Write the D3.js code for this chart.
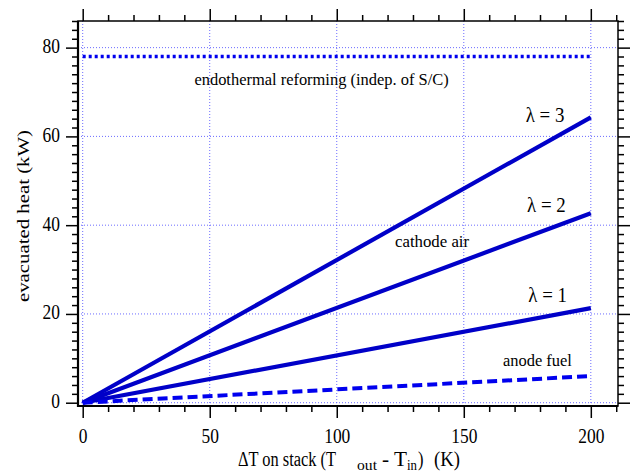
<!DOCTYPE html>
<html>
<head>
<meta charset="utf-8">
<script src="https://cdn.jsdelivr.net/npm/d3@7"></script>
</head>
<body style="margin:0">
<div id="chart"></div>
<script>
// data
var deltaT = [0, 200];
var lambda1 = [0, 21.3];
var lambda2 = [0, 42.7];
var lambda3 = [0, 64.3];
var anodeFuel = [0, 6.0];
var reforming = [78.0, 78.0];
var xMajor = [0, 50, 100, 150, 200];
var yMajor = [0, 20, 40, 60, 80];

var FONT = "'Liberation Serif', 'Times New Roman', Times, serif";
var SX = 0.85; // text in the source looks squeezed sideways

var W = 632, H = 473;
var margin = {top: 21, right: 14, bottom: 67, left: 78};
var width = W - margin.left - margin.right,
    height = H - margin.top - margin.bottom;

var root = d3.select("#chart").append("svg")
    .attr("width", W).attr("height", H)
    .attr("font-family", FONT);
var svg = root.append("g")
    .attr("transform", "translate(" + margin.left + "," + margin.top + ")");

var x = d3.scaleLinear().domain([-1.85, 210.7]).range([0, width]);
var y = d3.scaleLinear().domain([-0.74, 86]).range([height, 0]);

var xMinor = d3.range(0, 211, 10).filter(function(d) { return xMajor.indexOf(d) < 0; });
var yMinor = d3.range(0, 87, 2).filter(function(d) { return yMajor.indexOf(d) < 0; });

// grid
svg.selectAll(".gx").data(xMajor).enter().append("line")
  .attr("x1", x).attr("x2", x).attr("y1", 0).attr("y2", height)
  .style("stroke", "#6b6bff").style("stroke-width", 1).style("stroke-dasharray", "1,2");
svg.selectAll(".gy").data(yMajor).enter().append("line")
  .attr("y1", y).attr("y2", y).attr("x1", 0).attr("x2", width)
  .style("stroke", "#6b6bff").style("stroke-width", 1).style("stroke-dasharray", "1,2");

// axes
function styleAxis(g) {
  g.attr("font-family", FONT).attr("font-size", 20.5);
  g.selectAll("path, line").style("stroke", "#000").style("stroke-width", 1.5);
  g.selectAll("text").style("font-family", FONT).style("font-size", "20.5px").style("fill", "#000");
  g.select(".domain").remove();
}
svg.append("g").attr("transform", "translate(0," + height + ")")
  .call(d3.axisBottom(x).tickValues(xMajor).tickSize(12).tickPadding(10).tickFormat(d3.format("d")))
  .call(styleAxis)
  .selectAll("text").attr("transform", "scale(" + SX + ",1)");
svg.append("g").attr("transform", "translate(0," + height + ")")
  .call(d3.axisBottom(x).tickValues(xMinor).tickSize(6).tickFormat(""))
  .call(styleAxis);
svg.append("g")
  .call(d3.axisTop(x).tickValues(xMajor).tickSize(12).tickFormat(""))
  .call(styleAxis);
svg.append("g")
  .call(d3.axisTop(x).tickValues(xMinor).tickSize(6).tickFormat(""))
  .call(styleAxis);

svg.append("g")
  .call(d3.axisLeft(y).tickValues(yMajor).tickSize(12).tickPadding(6).tickFormat(d3.format("d")))
  .call(styleAxis)
  .selectAll("text")
    .attr("x", -18 / SX).attr("dy", "0.24em")
    .attr("transform", "scale(" + SX + ",1)");
svg.append("g")
  .call(d3.axisLeft(y).tickValues(yMinor).tickSize(6).tickFormat(""))
  .call(styleAxis);
svg.append("g").attr("transform", "translate(" + width + ",0)")
  .call(d3.axisRight(y).tickValues(yMajor).tickSize(12).tickFormat(""))
  .call(styleAxis);
svg.append("g").attr("transform", "translate(" + width + ",0)")
  .call(d3.axisRight(y).tickValues(yMinor).tickSize(6).tickFormat(""))
  .call(styleAxis);

// frame
svg.append("rect").attr("width", width).attr("height", height)
  .style("fill", "none").style("stroke", "#000").style("stroke-width", 1.5);
svg.append("line").attr("x1", 0).attr("x2", 0).attr("y1", 0).attr("y2", height + 1)
  .style("stroke", "#000").style("stroke-width", 2.2);
svg.append("line").attr("x1", -1).attr("x2", width).attr("y1", height).attr("y2", height)
  .style("stroke", "#000").style("stroke-width", 2.2);

// lines
var line = d3.line().x(function(d) { return x(d[0]); }).y(function(d) { return y(d[1]); });
function pts(vals) { return deltaT.map(function(t, i) { return [t, vals[i]]; }); }

var series = [
  {vals: lambda3, color: "#0000c8", dash: null, w: 4.2},
  {vals: lambda2, color: "#0000c8", dash: null, w: 4.2},
  {vals: lambda1, color: "#0000c8", dash: null, w: 4.2},
  {vals: anodeFuel, color: "#0000ee", dash: "10,5", w: 4},
  {vals: reforming, color: "#0000ee", dash: "3,3", w: 3.5}
];
series.forEach(function(s) {
  svg.append("path").datum(pts(s.vals))
    .attr("d", line)
    .style("fill", "none")
    .style("stroke", s.color)
    .style("stroke-width", s.w)
    .style("stroke-dasharray", s.dash);
});

// annotations (placed in data units, squeezed like the source text)
function label(txt, xv, yv, size, sx) {
  svg.append("text")
    .attr("transform", "translate(" + x(xv) + "," + y(yv) + ") scale(" + sx + ",1)")
    .attr("text-anchor", "middle")
    .style("font-family", FONT)
    .style("font-size", size + "px")
    .text(txt);
}
label("endothermal reforming (indep. of S/C)", 94, 71.6, 17.5, 0.94);
label("\u03bb = 3", 182, 63.3, 21, 0.9);
label("\u03bb = 2", 182.5, 43.0, 21, 0.9);
label("\u03bb = 1", 183, 22.6, 21, 0.9);
label("cathode air", 137.5, 35.1, 17.5, 0.96);
label("anode fuel", 179, 8.2, 17.5, 0.94);

// axis titles
svg.append("text")
  .attr("transform", "translate(" + (29 - margin.left) + "," + (216 - margin.top) + ") scale(" + SX + ",1) rotate(-90)")
  .attr("text-anchor", "middle")
  .style("font-family", FONT)
  .style("font-size", "20.8px")
  .text("evacuated heat (kW)");

// x title in pieces, each stretched to the span it takes in the source
var title = root.append("g");
function piece(txt, left, base, size, span) {
  title.append("text")
    .attr("x", left).attr("y", base)
    .attr("textLength", span)
    .attr("lengthAdjust", "spacingAndGlyphs")
    .style("font-family", FONT)
    .style("font-size", size + "px")
    .text(txt);
}
piece("\u0394T on stack (T", 238, 466, 20, 98);
piece("out", 357, 469.5, 15, 20);
piece("- T", 382, 466, 20, 25);
piece("in", 407, 469.5, 15, 10);
piece(")", 418, 466, 20, 5.5);
piece("(K)", 434, 466, 20, 26);
</script>
</body>
</html>
